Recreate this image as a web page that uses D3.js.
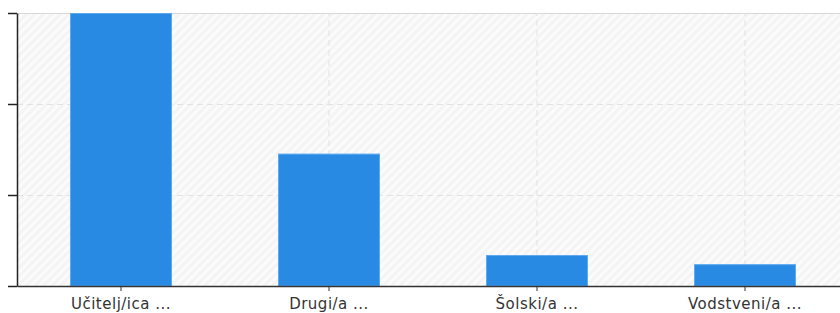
<!DOCTYPE html>
<html>
  <head>
    <meta charset="utf-8">
    <title>Vloge</title>
    <script src="https://cdn.jsdelivr.net/npm/d3@7"></script>
    <style>
      body { margin: 0; background: #fff; }
      .tick text { font-family: "DejaVu Sans", Verdana, sans-serif; font-size: 15px; letter-spacing: 0.5px; fill: #333; }
      .grid line { stroke: #e2e2e2; stroke-dasharray: 6,4; }
      .grid path { display: none; }
    </style>
  </head>
  <body>
    <div id="chart"></div>
    <script>
      // data (y labels are cut off in the original)
      var categories = ['Učitelj/ica ...', 'Drugi/a ...', 'Šolski/a ...', 'Vodstveni/a ...'];
      var values = [60, 29.1, 6.8, 4.8];
      var yTicks = [0, 20, 40, 60];

      var width = 840, height = 313;
      var margin = {top: 13, right: -9, bottom: 27, left: 17};
      var w = width - margin.left - margin.right;
      var h = height - margin.top - margin.bottom;

      var svg = d3.select('#chart').append('svg')
        .attr('width', width)
        .attr('height', height);

      var defs = svg.append('defs');
      var pat = defs.append('pattern')
        .attr('id', 'hatch')
        .attr('patternUnits', 'userSpaceOnUse')
        .attr('width', 6)
        .attr('height', 6)
        .attr('patternTransform', 'rotate(45)');
      pat.append('rect').attr('width', 6).attr('height', 6).attr('fill', '#fbfbfb');
      pat.append('rect').attr('width', 3).attr('height', 6).attr('fill', '#f4f4f4');

      var g = svg.append('g')
        .attr('transform', 'translate(' + margin.left + ',' + margin.top + ')');

      var x = d3.scaleBand().domain(categories).range([0, w]).paddingInner(0.51).paddingOuter(0.255);
      var y = d3.scaleLinear().domain([0, d3.max(yTicks)]).range([h, 0]);

      g.append('rect')
        .attr('width', w)
        .attr('height', h)
        .attr('fill', 'url(#hatch)');

      // top border
      g.append('line')
        .attr('x1', 0).attr('x2', w)
        .attr('y1', 0.5).attr('y2', 0.5)
        .attr('stroke', '#d8d8d8');

      g.append('g')
        .attr('class', 'grid')
        .call(d3.axisLeft(y).tickValues(yTicks.slice(1, -1)).tickSize(-w).tickFormat(''));

      g.append('g')
        .attr('class', 'grid')
        .attr('transform', 'translate(0,' + h + ')')
        .call(d3.axisBottom(x).tickFormat('').tickSizeInner(-h).tickSizeOuter(0));

      g.selectAll('.bar')
        .data(values)
        .enter().append('rect')
        .attr('class', 'bar')
        .attr('x', function(d, i) { return x(categories[i]) + 0.5; })
        .attr('y', function(d) { return y(d) + 0.5; })
        .attr('width', x.bandwidth() - 1)
        .attr('height', function(d) { return h - y(d) - 0.5; })
        .attr('fill', '#288ae3')
        .attr('stroke', '#5aa9ef')
        .attr('stroke-width', 1);

      var xAxis = g.append('g')
        .attr('transform', 'translate(0,' + h + ')')
        .call(d3.axisBottom(x).tickSizeInner(5).tickSizeOuter(0).tickPadding(7));
      xAxis.select('.domain').attr('stroke', '#333').attr('stroke-width', 1.5);
      xAxis.selectAll('.tick line').attr('stroke', '#333');

      var yAxis = g.append('g')
        .call(d3.axisLeft(y).tickValues(yTicks).tickSizeInner(9).tickSizeOuter(0).tickFormat(''));
      yAxis.select('.domain').attr('stroke', '#222').attr('stroke-width', 1.5);
      yAxis.selectAll('.tick line').attr('stroke', '#222').attr('stroke-width', 1.5);
    </script>
  </body>
</html>
